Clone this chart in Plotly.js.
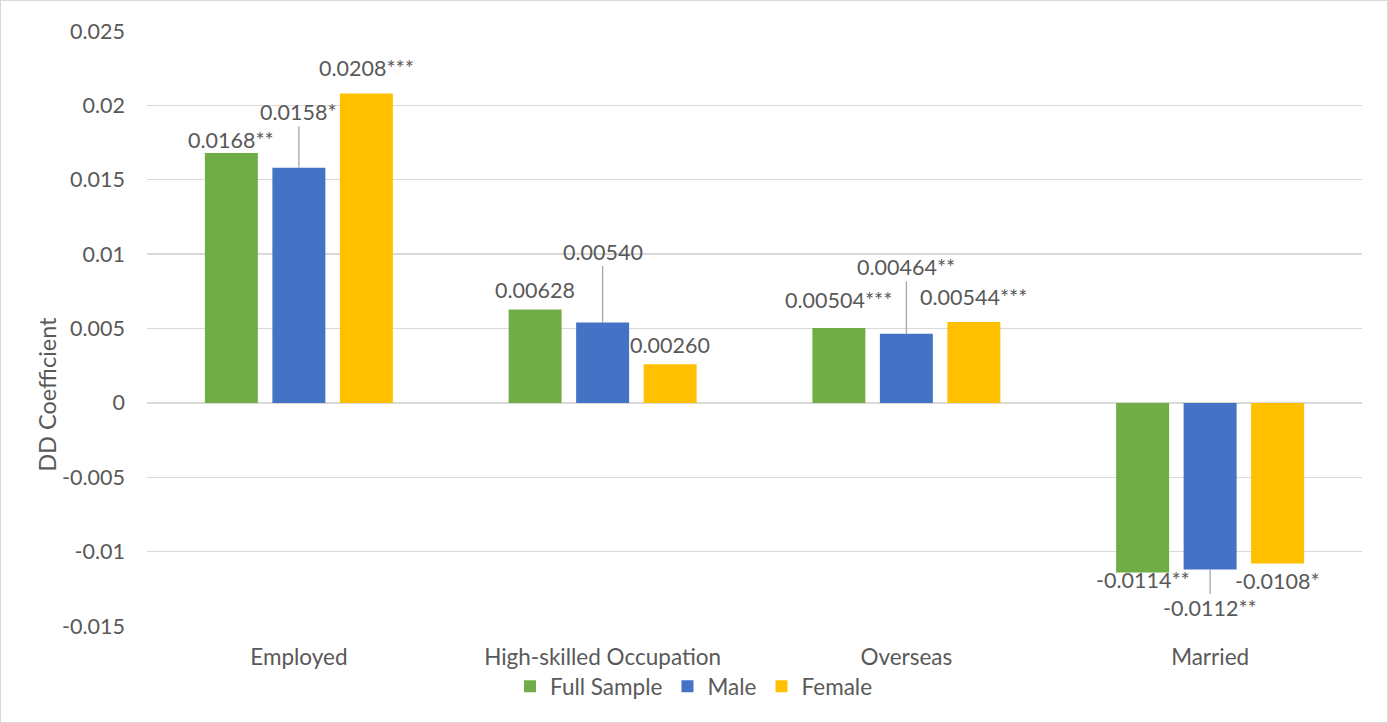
<!DOCTYPE html>
<html>
<head>
<meta charset="utf-8">
<script src="https://cdn.plot.ly/plotly-3.0.1.min.js"></script>
<style>
  html, body { margin: 0; padding: 0; background: #fff; }
  #chart { position: absolute; left: 0; top: 0; width: 1388px; height: 723px;
           box-sizing: border-box; border: 1px solid #d9d9d9; }
</style>
</head>
<body>
<div id="chart"></div>
<script>
// Difference-in-differences coefficients by outcome and sample
const categories = ['Employed', 'High-skilled Occupation', 'Overseas', 'Married'];
const seriesNames = ['Full Sample', 'Male', 'Female'];
const fullSample = [0.0168, 0.00628, 0.00504, -0.0114];
const male = [0.0158, 0.00540, 0.00464, -0.0112];
const female = [0.0208, 0.00260, 0.00544, -0.0108];
const fullSampleLabels = ['0.0168**', '0.00628', '0.00504***', '-0.0114**'];
const maleLabels = ['0.0158*', '0.00540', '0.00464**', '-0.0112**'];
const femaleLabels = ['0.0208***', '0.00260', '0.00544***', '-0.0108*'];
const yTickVals = [0.025, 0.02, 0.015, 0.01, 0.005, 0, -0.005, -0.01, -0.015];
const yTickText = ['0.025', '0.02', '0.015', '0.01', '0.005', '0', '-0.005', '-0.01', '-0.015'];
const yAxisTitle = 'DD Coefficient';

const colors = ['#70AD47', '#4472C4', '#FFC000'];
const textColor = '#595959';
const fontFamily = 'Lato, "Open Sans", sans-serif';
const numberSize = 21.5;
const wordSize = 22.5;

const seriesValues = [fullSample, male, female];
const seriesLabels = [fullSampleLabels, maleLabels, femaleLabels];

// Label placement: plain labels get a vertical pixel shift,
// labels with a leader line get an arrow tail offset (ay, pixels).
const labelMode = ['shift', 'leader', 'shift'];
const labelOffsets = [
  [13, 19, 28, -8],
  [-56, -71, -67, 39],
  [25, 19, 25, -17]
];

const barStep = 0.2222; // distance between bar centres inside a group, in category units

const traces = seriesValues.map((vals, s) => ({
  type: 'bar',
  name: seriesNames[s],
  x: categories,
  y: vals,
  marker: { color: colors[s], line: { width: 0 } },
  hoverinfo: 'x+y+name'
}));

const annotations = [];
seriesValues.forEach((vals, s) => {
  vals.forEach((v, i) => {
    const base = {
      xref: 'x', yref: 'y',
      x: i + (s - 1) * barStep,
      y: v,
      text: seriesLabels[s][i],
      font: { family: fontFamily, size: numberSize, color: textColor },
      xanchor: 'center', yanchor: 'middle'
    };
    if (labelMode[s] === 'leader') {
      Object.assign(base, {
        showarrow: true, arrowhead: 0, arrowwidth: 1.3, arrowcolor: '#a6a6a6',
        ax: 0, ay: labelOffsets[s][i], standoff: 0
      });
    } else {
      Object.assign(base, { showarrow: false, yshift: labelOffsets[s][i] });
    }
    annotations.push(base);
  });
});

annotations.push({
  xref: 'paper', yref: 'paper', x: -0.0823, y: 0.3886,
  text: yAxisTitle, textangle: -90, showarrow: false,
  xanchor: 'center', yanchor: 'middle',
  font: { family: fontFamily, size: 23.5, color: textColor }
});

const layout = {
  width: 1386,
  height: 721,
  margin: { l: 146, r: 25, t: 30, b: 96, pad: 0 },
  paper_bgcolor: '#ffffff',
  plot_bgcolor: '#ffffff',
  font: { family: fontFamily, size: numberSize, color: textColor },
  barmode: 'group',
  bargap: 0.3333,
  bargroupgap: 0.215,
  showlegend: true,
  legend: {
    orientation: 'h',
    xref: 'container', yref: 'container',
    x: 0.5, y: 0.049, xanchor: 'center', yanchor: 'middle',
    bgcolor: 'rgba(0,0,0,0)',
    font: { family: fontFamily, size: wordSize, color: textColor },
    itemwidth: 30,
    traceorder: 'normal'
  },
  xaxis: {
    type: 'category',
    showgrid: false,
    showline: false,
    zeroline: false,
    ticks: '',
    ticklabelstandoff: 15,
    tickfont: { family: fontFamily, size: wordSize, color: textColor }
  },
  yaxis: {
    range: [-0.015, 0.025],
    tickvals: yTickVals,
    ticktext: yTickText,
    showgrid: true,
    gridcolor: '#d9d9d9',
    gridwidth: 1.3,
    zeroline: true,
    zerolinecolor: '#d9d9d9',
    zerolinewidth: 1.3,
    showline: false,
    ticks: '',
    ticklabelstandoff: 21,
    tickfont: { family: fontFamily, size: numberSize, color: textColor }
  },
  annotations: annotations
};

Plotly.newPlot('chart', traces, layout, { displayModeBar: false, staticPlot: true });
</script>
</body>
</html>
